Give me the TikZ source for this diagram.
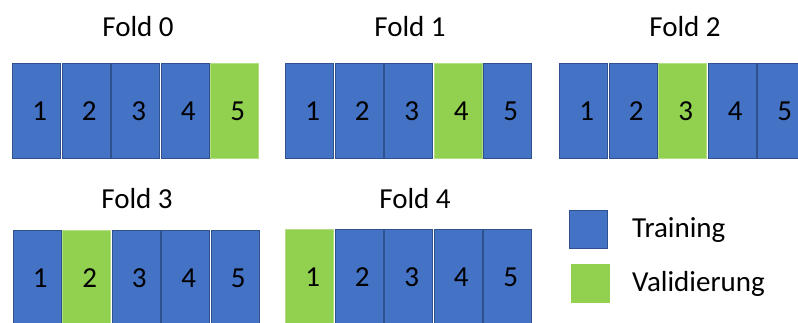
\documentclass[tikz,border=0pt]{standalone}
\usepackage{fontspec}
\setmainfont{Carlito}
\definecolor{trainblue}{HTML}{4472C4}
\definecolor{trainborder}{HTML}{2F528F}
\definecolor{valgreen}{HTML}{92D050}
\tikzset{
  cell/.style={rectangle, minimum width=48.2pt, minimum height=95.2pt, inner sep=0pt,
    line width=0.8pt, font=\fontsize{29}{32}\selectfont, text=black},
  trainc/.style={cell, fill=trainblue, draw=trainborder},
  valc/.style={cell, fill=valgreen, draw=valgreen!70!white},
  title/.style={font=\fontsize{29}{32}\selectfont, anchor=base, inner sep=0pt},
  legtext/.style={font=\fontsize{29}{32}\selectfont, anchor=base west, inner sep=0pt},
}
\begin{document}
\begin{tikzpicture}[x=1pt,y=-1pt]
\useasboundingbox (0,0) rectangle (798,322);
\clip (0,0) rectangle (798,322);
% folds: index / left x / top y / validation cell
\foreach \f/\lx/\ty/\v in {0/12/63/5, 1/285/63/4, 2/559/63/3, 3/12.5/230/2, 4/285/229/1}{
  \foreach \i in {1,...,5}{
    \pgfmathsetmacro{\cx}{\lx+24.75+(\i-1)*49.5}
    \pgfmathsetmacro{\cy}{\ty+48}
    \ifnum\i=\v
      \node[valc] (f\f c\i) at (\cx,\cy) {\hspace*{6pt}\i};
    \else
      \node[trainc] (f\f c\i) at (\cx,\cy) {\hspace*{6pt}\i};
    \fi
  }
}
\node[title] (t0) at (138,36) {Fold 0};
\node[title] (t1) at (410,36) {Fold 1};
\node[title] (t2) at (685,36) {Fold 2};
\node[title] (t3) at (137,208) {Fold 3};
\node[title] (t4) at (415,208) {Fold 4};
% legend
\node[rectangle, fill=trainblue, draw=trainborder, line width=0.8pt, minimum width=38pt, minimum height=38pt, inner sep=0pt] (legT) at (588.5,229.5) {};
\node[rectangle, fill=valgreen, minimum width=39pt, minimum height=39pt, inner sep=0pt] (legV) at (590.5,283.5) {};
\node[legtext] (legTt) at (632,237) {Training};
\node[legtext] (legVt) at (632,291) {Validierung};
\end{tikzpicture}
\end{document}
